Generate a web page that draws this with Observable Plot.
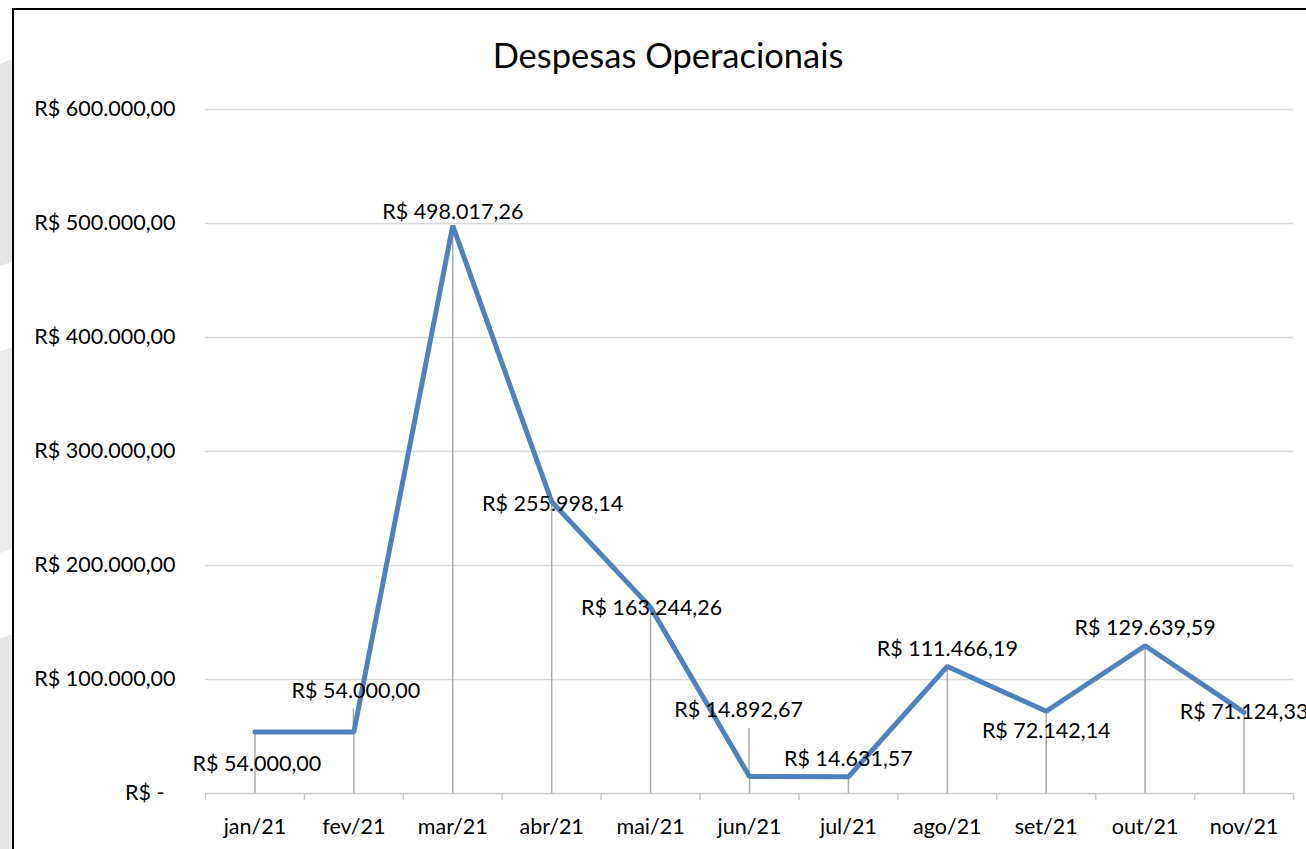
<!DOCTYPE html>
<html><head><meta charset="utf-8">
<script src="https://cdn.jsdelivr.net/npm/d3@7"></script>
<script src="https://cdn.jsdelivr.net/npm/@observablehq/plot@0.6"></script>
<style>
html,body{margin:0;padding:0;width:1306px;height:849px;overflow:hidden;background:#fff;font-family:Lato,sans-serif}
#deco{position:absolute;left:0;top:0;width:12px;height:849px;background:linear-gradient(160deg,#fff 0,#fff 60px,#e6e6e6 60px,#e6e6e6 250px,#fff 250px,#fff 330px,#ececec 330px,#ececec 520px,#fff 520px,#fff 600px,#e8e8e8 600px);}
#frame{position:absolute;left:12px;top:8px;width:1400px;height:900px;border:2px solid #000;background:#fff;}
#chart{position:absolute;left:0;top:0;}
#title{position:absolute;left:0;width:1336px;top:38px;text-align:center;font-size:34.5px;line-height:34px;color:#000;font-family:Lato,sans-serif}
</style></head><body>
<div id="deco"></div>
<div id="frame"></div>
<div id="chart"></div>
<div id="title">Despesas Operacionais</div>
<script>
const months = ["jan/21","fev/21","mar/21","abr/21","mai/21","jun/21","jul/21","ago/21","set/21","out/21","nov/21"];
const values = [54000.00, 54000.00, 498017.26, 255998.14, 163244.26, 14892.67, 14631.57, 111466.19, 72142.14, 129639.59, 71124.33];
const yTicks = [0, 100000, 200000, 300000, 400000, 500000, 600000];
// label placement offsets (px) and leader line lengths (px)
const labelDx = [2, 2, 0, 1, 1, -11, 0, 0, 0, 0, 0];
const labelDy = [32, -41, -14, 2, 1, -66, -18, -17, 20, -18, 0];
const leaderLen = [0, 23, 0, 0, 0, 48, 0, 0, 0, 0, 0];

const loc = d3.formatLocale({decimal: ",", thousands: ".", grouping: [3], currency: ["R$ ", ""]});
const money = loc.format("$,.2f");
const fmtTick = d => d === 0 ? "R$ -\u00a0\u00a0" : money(d);

const data = months.map((m, i) => ({i, m, v: values[i]}));
const boundaries = d3.range(months.length + 1).map(i => i - 0.5);

const plot = Plot.plot({
  width: 1306, height: 849,
  marginLeft: 205, marginRight: 13, marginTop: 109, marginBottom: 56,
  style: {fontFamily: "Lato, sans-serif", fontSize: "21.5px", color: "#000", background: "transparent", overflow: "visible"},
  x: {domain: [-0.5, months.length - 0.5], label: null},
  y: {domain: [0, 600000], label: null},
  marks: [
    Plot.ruleY(yTicks.filter(d => d > 0), {y: d => d, stroke: "#d9d9d9", strokeWidth: 1.3}),
    Plot.ruleY([0], {stroke: "#c8c8c8", strokeWidth: 1.5}),
    Plot.axisX(boundaries, {tickSize: 7, stroke: "#c8c8c8", strokeWidth: 1.5, text: null, label: null}),
    Plot.axisX(d3.range(months.length), {tickSize: 0, tickPadding: 25, tickFormat: i => months[i], fill: "#000", label: null}),
    Plot.axisY(yTicks, {tickSize: 0, tickPadding: 30, tickFormat: fmtTick, fill: "#000", label: null}),
    Plot.ruleX(data, {x: "i", y1: 0, y2: "v", stroke: "#ababab", strokeWidth: 1.5}),
    (index, scales) => {
      const g = d3.create("svg:g").attr("stroke", "#ababab").attr("stroke-width", 1.5);
      data.forEach((d, k) => {
        if (!leaderLen[k]) return;
        const px = scales.x(d.i), py = scales.y(d.v);
        g.append("line").attr("x1", px).attr("x2", px).attr("y1", py).attr("y2", py - leaderLen[k]);
      });
      return g.node();
    },
    Plot.line(data, {x: "i", y: "v", stroke: "#4f81bd", strokeWidth: 5, strokeLinecap: "round", strokeLinejoin: "miter"}),
    ...data.map((d, k) => Plot.text([d], {x: "i", y: "v", text: e => money(e.v), dx: labelDx[k], dy: labelDy[k], fill: "#000"}))
  ]
});
document.getElementById("chart").appendChild(plot);
</script>
</body></html>
